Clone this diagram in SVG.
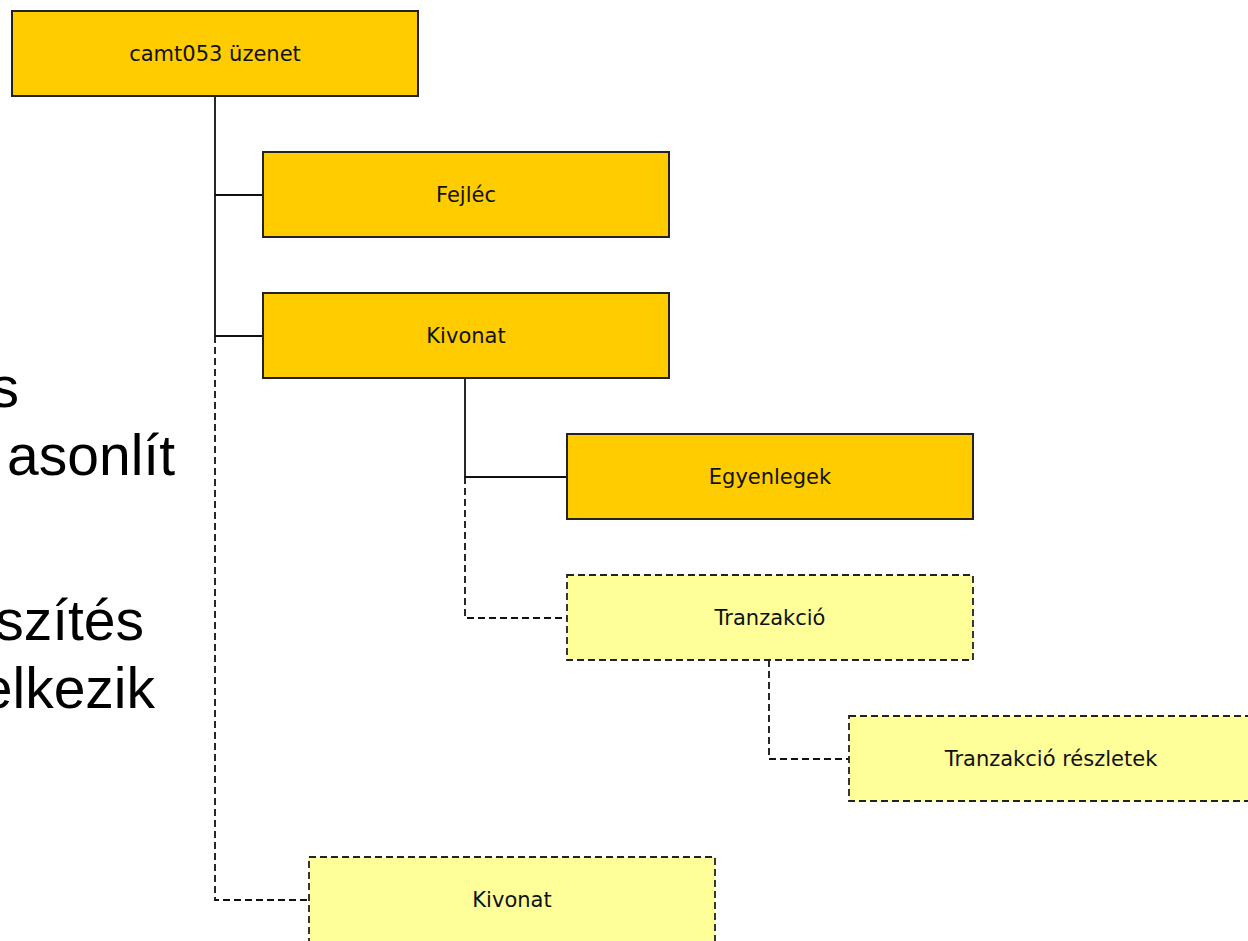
<svg xmlns="http://www.w3.org/2000/svg" width="1248" height="941" viewBox="0 0 1248 941">
<style>
.bg{fill:#ffffff}
.req rect{fill:#ffcc00;stroke:#222;stroke-width:2}
.opt rect{fill:#ffff99;stroke:#222;stroke-width:1.8;stroke-dasharray:7 4}
.lbl{font-family:"DejaVu Sans",sans-serif;font-size:21px;fill:#111;text-anchor:middle}
.solid{fill:none;stroke:#111;stroke-width:1.8}
.dash{fill:none;stroke:#111;stroke-width:1.8;stroke-dasharray:7 4}
.big{font-family:"Liberation Sans",Arial,sans-serif;font-size:57px;fill:#000;text-anchor:end}
</style>
<rect class="bg" x="0" y="0" width="1248" height="941"/>
<g id="background-text">
<text class="big" x="19" y="407">s</text>
<text class="big" x="175" y="475">asonlít</text>
<text class="big" x="144" y="640">szítés</text>
<text class="big" x="155" y="708">elkezik</text>
</g>
<g id="connectors">
<path class="solid" d="M215,96 V336 M215,195 H263 M215,336 H263"/>
<path class="dash" d="M215,336 V900 H309"/>
<path class="solid" d="M465,378 V477 H567"/>
<path class="dash" d="M465,477 V618 H567"/>
<path class="dash" d="M769,660 V759 H849"/>
</g>
<g id="n-camt053" class="req"><rect x="12" y="11" width="406" height="85"/><text class="lbl" x="215" y="61">camt053 üzenet</text></g>
<g id="n-fejlec" class="req"><rect x="263" y="152" width="406" height="85"/><text class="lbl" x="466" y="202">Fejléc</text></g>
<g id="n-kivonat1" class="req"><rect x="263" y="293" width="406" height="85"/><text class="lbl" x="466" y="343">Kivonat</text></g>
<g id="n-egyenlegek" class="req"><rect x="567" y="434" width="406" height="85"/><text class="lbl" x="770" y="484">Egyenlegek</text></g>
<g id="n-tranzakcio" class="opt"><rect x="567" y="575" width="406" height="85"/><text class="lbl" x="770" y="625">Tranzakció</text></g>
<g id="n-reszletek" class="opt"><rect x="849" y="716" width="406" height="85"/><text class="lbl" x="1051" y="766">Tranzakció részletek</text></g>
<g id="n-kivonat2" class="opt"><rect x="309" y="857" width="406" height="100"/><text class="lbl" x="512" y="907">Kivonat</text></g>
</svg>
